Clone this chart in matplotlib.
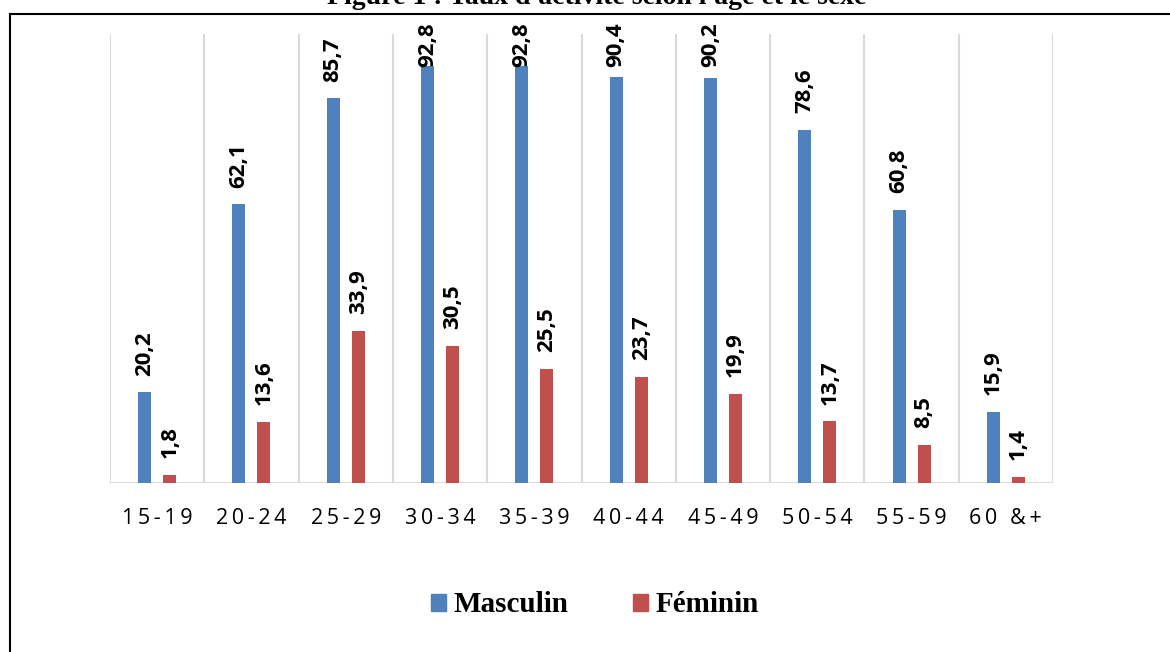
import matplotlib
matplotlib.use("Agg")
import matplotlib.pyplot as plt
import matplotlib.patches as mpatches
import numpy as np

categories = ["15-19", "20-24", "25-29", "30-34", "35-39", "40-44", "45-49", "50-54", "55-59", "60 &+"]
masculin = [20.2, 62.1, 85.7, 92.8, 92.8, 90.4, 90.2, 78.6, 60.8, 15.9]
feminin = [1.8, 13.6, 33.9, 30.5, 25.5, 23.7, 19.9, 13.7, 8.5, 1.4]
series_names = ["Masculin", "Féminin"]
title = "Figure 1 : Taux d'activité selon l'âge et le sexe"

BLUE = "#4F81BD"
RED = "#C0504D"
GRID = "#D9D9D9"

W, H = 1170, 652
fig = plt.figure(figsize=(W / 100, H / 100), dpi=100)
ax = fig.add_axes([110 / W, (H - 483) / H, 943 / W, (483 - 34) / H])

x = np.arange(len(categories))
off = 0.133
bw = 0.138
ax.bar(x - off, masculin, bw, color=BLUE, zorder=3)
ax.bar(x + off, feminin, bw, color=RED, zorder=3)

ax.set_xlim(-0.5, len(categories) - 0.5)
ax.set_ylim(0, 100)

# vertical category gridlines and baseline
ax.vlines(np.arange(-0.5, len(categories)), 0, 100, color=GRID, lw=1.5, zorder=1)
ax.axhline(0, color=GRID, lw=2, zorder=2)

for s in ax.spines.values():
    s.set_visible(False)
ax.set_yticks([])

def spaced(s):
    return "\u2009".join(list(s))

ax.set_xticks(x)
ax.set_xticklabels([spaced(c) for c in categories], fontsize=15.5,
                   family=["Open Sans", "DejaVu Sans"], color="black")
ax.tick_params(axis="x", length=0, pad=18)

label_top_limit = 102.5
def add_labels(xs, vals):
    for xi, v in zip(xs, vals):
        txt = f"{v:.1f}".replace(".", ",")
        if v + 15.5 > label_top_limit:
            ax.annotate(txt, (xi, label_top_limit), ha="center", va="top",
                        rotation=90, fontsize=16, fontweight="bold",
                        family="Open Sans", annotation_clip=False, zorder=4)
        else:
            ax.annotate(txt, (xi, v), xytext=(0, 12), textcoords="offset points",
                        ha="center", va="bottom", rotation=90, fontsize=16,
                        fontweight="bold", family="Open Sans",
                        annotation_clip=False, zorder=4)

add_labels(x - off, masculin)
add_labels(x + off, feminin)

# legend
handles = [mpatches.Patch(color=BLUE, label=series_names[0]),
           mpatches.Patch(color=RED, label=series_names[1])]
fig.legend(handles=handles, loc="center", bbox_to_anchor=(595 / W, 1 - 605 / H),
           ncol=2, frameon=False, prop={"family": "Liberation Serif", "weight": "bold", "size": 21},
           handlelength=0.52, handleheight=0.52, handletextpad=0.25, columnspacing=2.2)

# title (partially cut at the top, as in the source)
fig.text(597 / W, 1 - 4.5 / H, title, ha="center", va="baseline",
         fontsize=20, fontweight="bold", family="Liberation Serif")

# outer border
border = mpatches.Rectangle((9.5 / W, -0.1), 1.2, 1 - 14 / H + 0.1, transform=fig.transFigure,
                            fill=False, ec="black", lw=1.5)
fig.add_artist(border)

fig.savefig("out.png", dpi=100)
